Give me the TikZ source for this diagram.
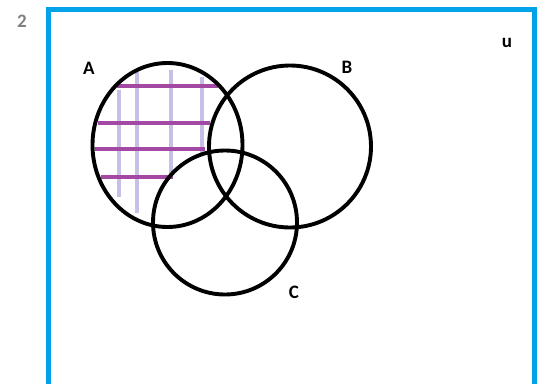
\documentclass[tikz,border=0pt]{standalone}
\usepackage{fontspec}
\setmainfont{Carlito}
\usetikzlibrary{positioning}
\definecolor{framblue}{RGB}{0, 162, 232}
\definecolor{hatchpurple}{RGB}{163, 73, 164}
\definecolor{hatchlav}{RGB}{200, 191, 231}
\definecolor{numgray}{RGB}{128, 128, 128}

\begin{document}
\begin{tikzpicture}[
    x=1pt, y=-1pt,
    vennline/.style={draw=black, line width=3.9pt},
    hatchh/.style={draw=hatchpurple, line width=3.8pt},
    hatchv/.style={draw=hatchlav, line width=3.8pt},
    setlabel/.style={font=\bfseries\fontsize{19}{19}\selectfont, inner sep=0pt}
]
\useasboundingbox (0,0) rectangle (537,383);
\clip (0,0) rectangle (537,383);
\node[setlabel, text=numgray] (num) at (22,21) {2};
\draw[draw=framblue, line width=5pt] (48.5,395) |- (534.5,9.5) -- (534.5,395);
\node[setlabel] (u) at (507,43) {u};
% hatching of A only
\draw[hatchv] (119,90) -- (119,197);
\draw[hatchv] (137,72) -- (137,213);
\draw[hatchv] (171,70) -- (171,178);
\draw[hatchv] (202,77) -- (202,155);
\draw[hatchh] (117,86) -- (218,86);
\draw[hatchh] (98,123) -- (210,123);
\draw[hatchh] (95,149) -- (205,149);
\draw[hatchh] (101,177) -- (173,177);
% the three sets
\draw[vennline] (167.5,145) ellipse [x radius=75, y radius=82];
\draw[vennline] (290,146.5) ellipse [x radius=81, y radius=81];
\draw[vennline] (225,222.5) ellipse [x radius=72, y radius=72];
\node[setlabel] (la) at (89,68) {A};
\node[setlabel] (lb) at (347,67) {B};
\node[setlabel] (lc) at (294,292) {C};
\end{tikzpicture}
\end{document}
